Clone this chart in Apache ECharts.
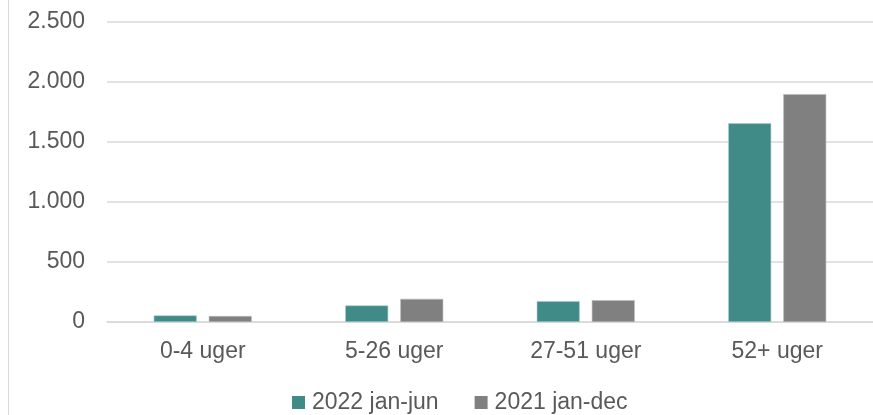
<!DOCTYPE html>
<html>
<head>
<meta charset="utf-8">
<script src="https://cdn.jsdelivr.net/npm/echarts@6/dist/echarts.min.js"></script>
<style>
  html, body { margin: 0; padding: 0; background: #fff; }
  #frame { position: absolute; left: 8px; top: 0; width: 1px; height: 415px; background: #d9d9d9; }
  #chart { width: 873px; height: 415px; }
</style>
</head>
<body>
<div id="chart"></div>
<div id="frame"></div>
<script>
const categories = ['0-4 uger', '5-26 uger', '27-51 uger', '52+ uger'];
const seriesNames = ['2022 jan-jun', '2021 jan-dec'];
const values2022 = [55, 138, 174, 1656];
const values2021 = [50, 193, 182, 1899];

// tusindtalsseparator med punktum
const fmt = (v) => String(v).replace(/\B(?=(\d{3})+(?!\d))/g, '.');

const textColor = '#595959';
const fontFamily = 'Liberation Sans';
const fontSize = 23;

let option = {
  animation: false,
  color: ['#408A87', '#808080'],
  textStyle: { fontFamily: fontFamily },
  legend: {
    data: seriesNames,
    top: 386,
    left: 287,
    icon: 'rect',
    itemWidth: 13,
    itemHeight: 13,
    itemGap: 36,
    itemStyle: { borderWidth: 0 },
    textStyle: { color: textColor, fontSize: fontSize, fontFamily: fontFamily, padding: [0, 0, 0, 2] }
  },
  grid: { left: 107, right: 0, top: 22, bottom: 93 },
  xAxis: {
    type: 'category',
    data: categories,
    axisLine: { lineStyle: { color: '#d9d9d9', width: 1.5 } },
    axisTick: { show: false },
    axisLabel: { color: textColor, fontSize: fontSize, fontFamily: fontFamily, margin: 18 }
  },
  yAxis: {
    type: 'value',
    min: 0,
    max: 2500,
    interval: 500,
    axisLine: { show: false },
    axisTick: { show: false },
    splitLine: { lineStyle: { color: '#d9d9d9', width: 1.5 } },
    axisLabel: { color: textColor, fontSize: fontSize, fontFamily: fontFamily, margin: 22, formatter: fmt }
  },
  series: [
    {
      name: seriesNames[0],
      type: 'bar',
      data: values2022,
      barWidth: 43,
      barGap: '28%',
      itemStyle: { borderColor: '#a9cfcd', borderWidth: 0.6 }
    },
    {
      name: seriesNames[1],
      type: 'bar',
      data: values2021,
      barWidth: 43,
      barGap: '28%',
      itemStyle: { borderColor: '#bdbdbd', borderWidth: 0.6 }
    }
  ]
};

let myChart = echarts.init(document.getElementById('chart'), null, { renderer: 'canvas' });
myChart.setOption(option);
</script>
</body>
</html>
